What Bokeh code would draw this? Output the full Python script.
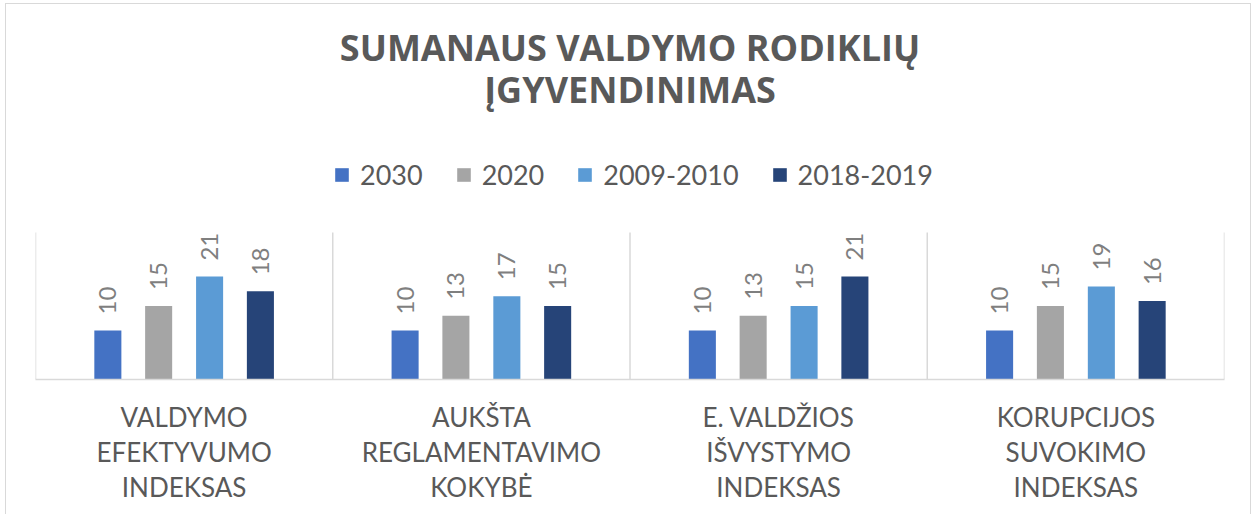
import math
from bokeh.plotting import figure
from bokeh.models import (ColumnDataSource, FixedTicker, Legend, LegendItem, Label)
from bokeh.core.properties import value
from bokeh.embed import file_html
from bokeh.resources import INLINE

# ---- data ----
categories = [
    "VALDYMO\nEFEKTYVUMO\nINDEKSAS",
    "AUKŠTA\nREGLAMENTAVIMO\nKOKYBĖ",
    "E. VALDŽIOS\nIŠVYSTYMO\nINDEKSAS",
    "KORUPCIJOS\nSUVOKIMO\nINDEKSAS",
]
series_names = ["2030", "2020", "2009-2010", "2018-2019"]
s2030 = [10, 10, 10, 10]
s2020 = [15, 13, 13, 15]
s2009_2010 = [21, 17, 15, 19]
s2018_2019 = [18, 15, 21, 16]
series_values = [s2030, s2020, s2009_2010, s2018_2019]
title_lines = ["SUMANAUS VALDYMO RODIKLIŲ", "ĮGYVENDINIMAS"]
y_max = 30

colors = ["#4472C4", "#A5A5A5", "#5B9BD5", "#264478"]
TEXT = "#595959"
GRID = "#D9D9D9"

# ---- layout (pixels) ----
OFF_X, OFF_Y = 6, 4             # where the figure content starts on the page
W, H = 1246, 511
B_LEFT, B_RIGHT = 29, 28
BASE_Y = 379                    # page row of the baseline
FRAME_H = BASE_Y - OFF_Y        # frame spans from top of figure to baseline
B_BOTTOM = H - FRAME_H
PLOT_H = 147                    # pixel height of the value band 0..y_max
PX = PLOT_H / y_max             # pixels per unit
Y_END = FRAME_H / PX


def y_at(page_px):
    """data y for a page pixel row"""
    return (BASE_Y - page_px) / PX


n = len(categories)
p = figure(width=W, height=H, output_backend="svg", toolbar_location=None,
           x_range=(0, n), y_range=(0, Y_END),
           min_border_left=B_LEFT, min_border_right=B_RIGHT, min_border_top=0,
           min_border_bottom=B_BOTTOM)
p.styles = {
    "margin-left": "5px", "margin-top": "3px",
    "border-left": "1px solid #D9D9D9", "border-top": "1px solid #D9D9D9",
    "border-right": "1px solid #D9D9D9",
}
p.outline_line_color = None
p.yaxis.visible = False
p.ygrid.visible = False
p.xgrid.visible = False

# category separators spanning the value band
sep_x = list(range(n + 1))
p.segment(x0=sep_x, y0=[0] * len(sep_x), x1=sep_x, y1=[y_max] * len(sep_x),
          line_color=GRID, line_width=1.5)

ax = p.xaxis[0]
ax.ticker = FixedTicker(ticks=[i + 0.5 for i in range(n)])
ax.major_label_overrides = {i + 0.5: c for i, c in enumerate(categories)}
ax.axis_line_color = GRID
ax.axis_line_width = 1.5
ax.major_tick_line_color = None
ax.minor_tick_line_color = None
ax.major_label_standoff = 15
ax.major_label_text_font = "Lato"
ax.major_label_text_font_size = "26px"
ax.major_label_text_color = TEXT
ax.major_label_text_line_height = 1.1

offsets = [-0.2566, -0.0857, 0.0857, 0.2566]
bar_w = 0.091
items = []
for j, (name, vals) in enumerate(zip(series_names, series_values)):
    src = ColumnDataSource(dict(
        x=[i + 0.5 + offsets[j] for i in range(n)],
        top=vals,
        label=[str(v) for v in vals],
    ))
    r = p.vbar(x="x", top="top", width=bar_w, bottom=0, source=src,
               fill_color=colors[j], line_color=None)
    p.text(x="x", y="top", text="label", source=src, angle=math.pi / 2,
           text_align="left", text_baseline="middle", y_offset=-16,
           text_font=value("Lato"), text_font_size="24px", text_color="#7F7F7F")
    items.append(LegendItem(label=name, renderers=[r]))

legend = Legend(items=items, orientation="horizontal", location=(298, 188),
                glyph_width=17, glyph_height=17, label_standoff=10, spacing=32,
                padding=0, margin=0, border_line_color=None,
                background_fill_alpha=0,
                label_text_font="Lato", label_text_font_size="27px",
                label_text_color=TEXT)
p.add_layout(legend, "center")

for k, line in enumerate(title_lines):
    p.add_layout(Label(x=n / 2, y=y_at(47 + 41.5 * k), text=line,
                       text_align="center", text_baseline="middle",
                       text_font="Open Sans", text_font_style="bold",
                       text_font_size="36px", text_color=TEXT))

open("out.html", "w").write(file_html(p, INLINE))
